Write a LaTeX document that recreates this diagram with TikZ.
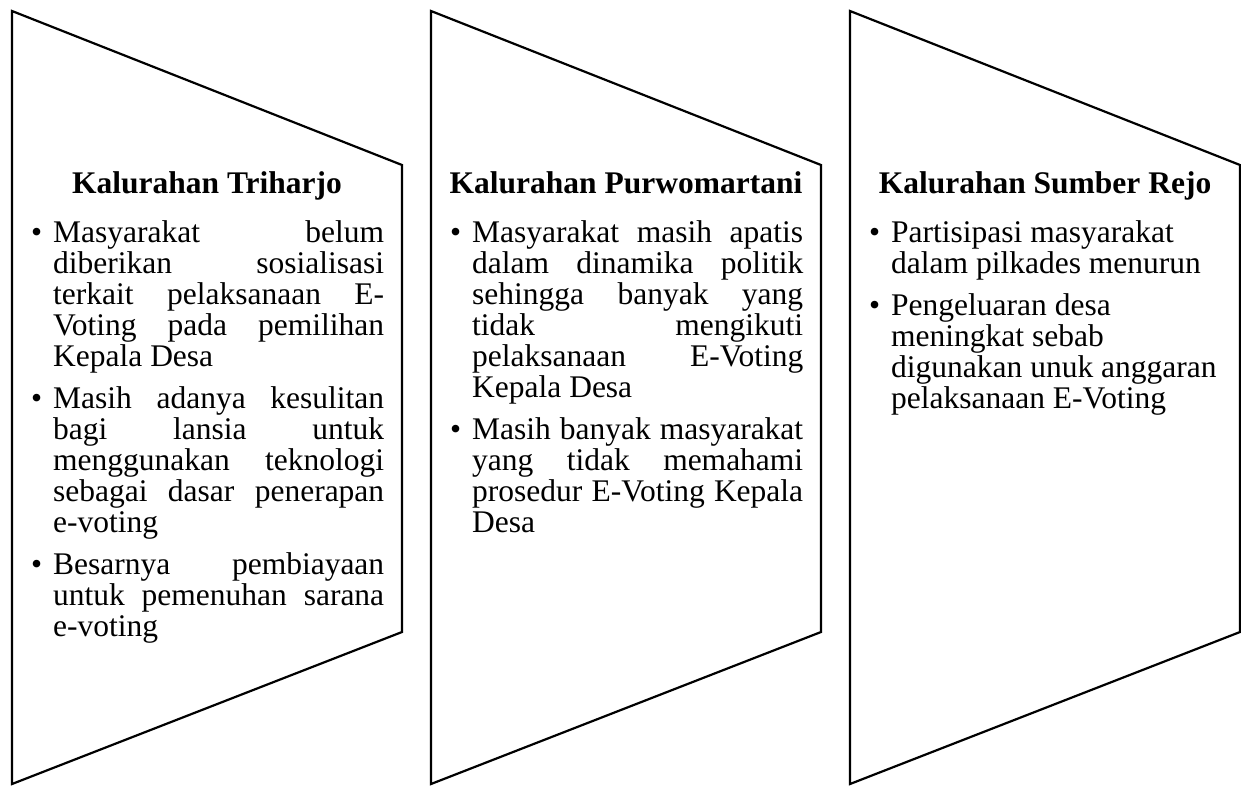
\documentclass[tikz,border=0pt]{standalone}
\usepackage{fontspec}
\setmainfont{Liberation Serif}
\newcommand{\bul}{\llap{\textbullet\hspace{11pt}}}
\newcommand{\jline}[1]{\makebox[\linewidth][s]{#1}\par}
\newcommand{\rline}[1]{\mbox{#1}\par}
\newcommand{\itemgap}{\vspace{11pt}}
\tikzset{
  panel/.style={draw, line width=2.2pt, line join=miter},
  title/.style={font=\fontsize{31.5}{31}\selectfont\bfseries, inner sep=0pt, anchor=base},
  body/.style={font=\fontsize{31.5}{31}\selectfont, inner sep=0pt, anchor=base west}
}
\begin{document}
\begin{tikzpicture}[x=1pt,y=-1pt]
\useasboundingbox (0,0) rectangle (1241,785);
% three tapered panels
\foreach \x in {12,431,850}
{\draw[panel] (\x,11) -- (\x+390,165) -- (\x+390,632) -- (\x,784) -- cycle;
}
% titles
\node[title] (tri) at (207,193) {Kalurahan Triharjo};
\node[title] (pur) at (626,193) {Kalurahan Purwomartani};
\node[title] (sum) at (1045,193) {Kalurahan Sumber Rejo};
% bullet texts
\node[body] (tritext) at (53,242) {\parbox[t]{331pt}{%
\jline{\bul Masyarakat belum}
\jline{diberikan sosialisasi}
\jline{terkait pelaksanaan E-}
\jline{Voting pada pemilihan}
\rline{Kepala Desa}
\itemgap
\jline{\bul Masih adanya kesulitan}
\jline{bagi lansia untuk}
\jline{menggunakan teknologi}
\jline{sebagai dasar penerapan}
\rline{e-voting}
\itemgap
\jline{\bul Besarnya pembiayaan}
\jline{untuk pemenuhan sarana}
\rline{e-voting}}};
\node[body] (purtext) at (472,242) {\parbox[t]{331pt}{%
\jline{\bul Masyarakat masih apatis}
\jline{dalam dinamika politik}
\jline{sehingga banyak yang}
\jline{tidak mengikuti}
\jline{pelaksanaan E-Voting}
\rline{Kepala Desa}
\itemgap
\jline{\bul Masih banyak masyarakat}
\jline{yang tidak memahami}
\jline{prosedur E-Voting Kepala}
\rline{Desa}}};
\node[body] (sumtext) at (891,242) {\parbox[t]{331pt}{%
\rline{\bul Partisipasi masyarakat}
\rline{dalam pilkades menurun}
\itemgap
\rline{\bul Pengeluaran desa}
\rline{meningkat sebab}
\rline{digunakan unuk anggaran}
\rline{pelaksanaan E-Voting}}};
\end{tikzpicture}
\end{document}
